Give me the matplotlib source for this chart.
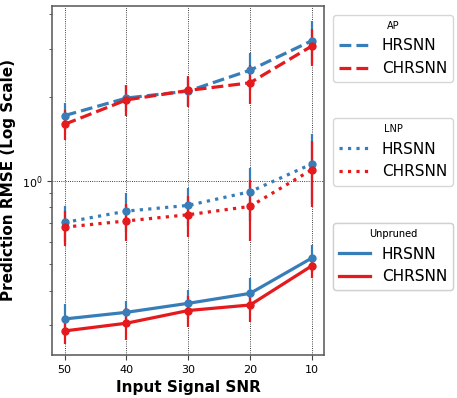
"""Prediction RMSE versus input SNR for pruned / unpruned HRSNN variants."""

import matplotlib

matplotlib.use("Agg")
import matplotlib.pyplot as plt
import numpy as np
from matplotlib.lines import Line2D

snr_labels = ["50", "40", "30", "20", "10"]

ap_hrsnn = [1.72, 1.99, 2.11, 2.51, 3.21]
ap_hrsnn_err = [0.19, 0.22, 0.24, 0.39, 0.57]
ap_chrsnn = [1.60, 1.96, 2.12, 2.26, 3.07]
ap_chrsnn_err = [0.20, 0.25, 0.27, 0.36, 0.48]

lnp_hrsnn = [0.706, 0.776, 0.814, 0.912, 1.15]
lnp_hrsnn_err = [0.106, 0.126, 0.13, 0.20, 0.33]
lnp_chrsnn = [0.679, 0.715, 0.753, 0.807, 1.096]
lnp_chrsnn_err = [0.10, 0.11, 0.13, 0.20, 0.29]

unp_hrsnn = [0.316, 0.334, 0.360, 0.391, 0.525]
unp_hrsnn_err = [0.041, 0.034, 0.043, 0.053, 0.058]
unp_chrsnn = [0.286, 0.305, 0.339, 0.355, 0.492]
unp_chrsnn_err = [0.03, 0.04, 0.043, 0.046, 0.046]

BLUE = "#377eb8"
RED = "#e41a1c"


def main() -> None:
    fig = plt.figure(figsize=(4.57, 3.98), dpi=100)
    ax = fig.add_axes([0.1145, 0.108, 0.595, 0.878])
    x = np.arange(len(snr_labels))

    groups = [
        ("AP", "--", ap_hrsnn, ap_hrsnn_err, ap_chrsnn, ap_chrsnn_err),
        ("LNP", ":", lnp_hrsnn, lnp_hrsnn_err, lnp_chrsnn, lnp_chrsnn_err),
        ("Unpruned", "-", unp_hrsnn, unp_hrsnn_err, unp_chrsnn, unp_chrsnn_err),
    ]
    for name, style, hr, hr_err, chr_, chr_err in groups:
        ax.errorbar(x, hr, yerr=hr_err, color=BLUE, linestyle=style,
                    linewidth=2.3, marker="o", markersize=5,
                    elinewidth=1.6, capsize=0, label="HRSNN")
        ax.errorbar(x, chr_, yerr=chr_err, color=RED, linestyle=style,
                    linewidth=2.3, marker="o", markersize=5,
                    elinewidth=1.6, capsize=0, label="CHRSNN")

    ax.set_yscale("log")
    ax.set_ylim(0.234, 4.3)
    ax.set_xticks(x)
    ax.set_xticklabels(snr_labels)
    ax.tick_params(labelsize=8, color="#444444")
    ax.tick_params(which="minor", color="#444444")
    for spine in ax.spines.values():
        spine.set_color("#555555")
        spine.set_linewidth(1.1)
    ax.grid(True, which="major", linestyle=":", color="black", linewidth=0.6)
    ax.set_xlabel("Input Signal SNR", fontsize=11, fontweight="bold")
    ax.set_ylabel("Prediction RMSE (Log Scale)", fontsize=11, fontweight="bold")

    # three stacked legends, one per pruning strategy
    tops = {"AP": 0.963, "LNP": 0.7035, "Unpruned": 0.4397}
    for name, style, *_ in groups:
        l1 = Line2D([], [], color=BLUE, linestyle=style, linewidth=2.3)
        l2 = Line2D([], [], color=RED, linestyle=style, linewidth=2.3)
        leg = ax.legend([l1, l2], ["HRSNN", "CHRSNN"], title=name,
                        title_fontsize=7, fontsize=11, loc="upper left",
                        bbox_to_anchor=(0.7287, tops[name]),
                        bbox_transform=fig.transFigure, borderaxespad=0)
        ax.add_artist(leg)

    fig.savefig("out.png", dpi=100)


if __name__ == "__main__":
    main()
